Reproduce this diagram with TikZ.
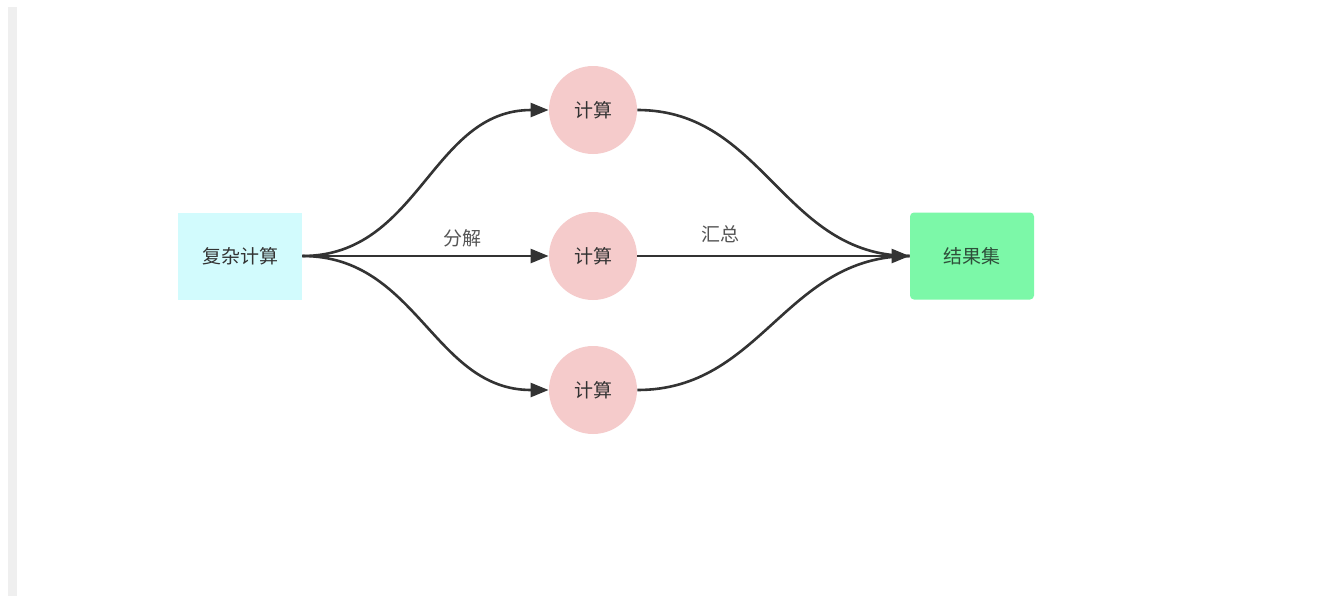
\documentclass[tikz,border=0pt]{standalone}
\usepackage{fontspec}
\setmainfont{Noto Sans CJK SC}
\usetikzlibrary{arrows.meta}
\definecolor{inkc}{HTML}{333333}
\definecolor{labelc}{HTML}{555555}
\definecolor{srcfill}{HTML}{D2FBFD}
\definecolor{workfill}{HTML}{F5CBCB}
\definecolor{resfill}{HTML}{7CF8A8}
\definecolor{restext}{HTML}{2E4F3A}
\definecolor{barc}{HTML}{EFEFEF}
\tikzset{
  boxnode/.style={rectangle, minimum width=62pt, minimum height=43.5pt, inner sep=0pt,
    font=\fontsize{9.5pt}{11pt}\selectfont, text=inkc},
  worknode/.style={circle, fill=workfill, minimum size=44pt, inner sep=0pt,
    font=\fontsize{9.5pt}{11pt}\selectfont, text=inkc},
  edgelabel/.style={font=\fontsize{9.5pt}{11pt}\selectfont, text=labelc},
  flow/.style={draw=inkc, line width=1.3pt, -{Triangle[length=9pt,width=7pt]}},
  plainflow/.style={draw=inkc, line width=1.3pt}
}
\begin{document}
\begin{tikzpicture}[x=0.5pt, y=-0.5pt]
  % canvas and left margin bar
  \useasboundingbox (0,0) rectangle (1329,596);
  \fill[white] (0,0) rectangle (1329,596);
  \fill[barc] (8,7) rectangle (17,596);

  % nodes
  \node[boxnode, fill=srcfill] (src) at (240,256) {复杂计算};
  \node[worknode] (w1) at (593,110) {计算};
  \node[worknode] (w2) at (593,256) {计算};
  \node[worknode] (w3) at (593,390) {计算};
  \node[boxnode, fill=resfill, rounded corners=2pt, text=restext] (res) at (972,256) {结果集};

  % split
  \draw[flow] (src.east) to[out=0, in=180, looseness=1.05] (w1.west);
  \draw[flow] (src.east) -- (w2.west);
  \draw[flow] (src.east) to[out=0, in=180, looseness=1.05] (w3.west);

  % merge
  \draw[plainflow] (w1.east) to[out=0, in=180, looseness=1.05] (res.west);
  \draw[flow] (w2.east) -- (res.west);
  \draw[plainflow] (w3.east) to[out=0, in=180, looseness=1.05] (res.west);

  % edge labels
  \node[edgelabel] (lsplit) at (462,238) {分解};
  \node[edgelabel] (lmerge) at (720,234) {汇总};
\end{tikzpicture}
\end{document}
